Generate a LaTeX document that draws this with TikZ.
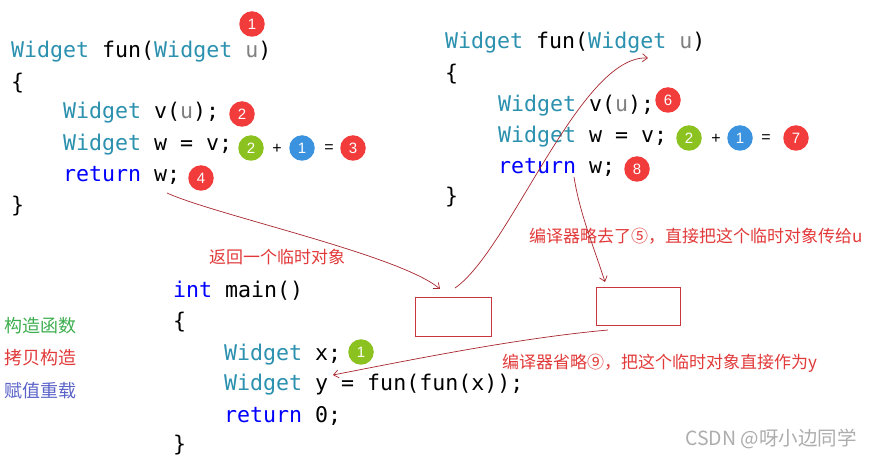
\documentclass[tikz,border=0pt]{standalone}
\usepackage{fontspec}
\usetikzlibrary{arrows.meta}
\newfontfamily\codefont{DejaVu Sans Mono}
\newfontfamily\cjk{Noto Sans CJK SC}
\newfontfamily\numfont{Liberation Sans}
\definecolor{vstype}{HTML}{2B91AF}
\definecolor{vsgray}{HTML}{808080}
\definecolor{vskw}{HTML}{0000FF}
\definecolor{bred}{HTML}{F23B3B}
\definecolor{bgreen}{HTML}{8CC21F}
\definecolor{bblue}{HTML}{3B93DF}
\definecolor{annred}{HTML}{E23A3A}
\definecolor{linered}{HTML}{A8262E}
\definecolor{boxred}{HTML}{C9363E}
\definecolor{lgreen}{HTML}{3DAE4F}
\definecolor{lblue}{HTML}{5A62C8}
\definecolor{wm}{HTML}{ADADAD}
\begin{document}
\begin{tikzpicture}[x=1pt,y=-1pt,
 code/.style={anchor=base west, inner sep=0, font=\codefont\fontsize{21.6}{26}\selectfont},
 badge/.style={circle, fill=#1, text=white, inner sep=0, minimum size=25.5pt, font=\numfont\fontsize{15}{15}\selectfont},
 op/.style={inner sep=0, font=\numfont\fontsize{16}{16}\selectfont},
 ann/.style={anchor=base west, inner sep=0, text=annred, font=\cjk\fontsize{17}{20}\selectfont},
 legend/.style={anchor=base west, inner sep=0, font=\cjk\fontsize{18}{20}\selectfont},
 tmpbox/.style={draw=boxred, line width=0.9pt, inner sep=0},
 conn/.style={draw=linered, line width=0.7pt, -{Straight Barb[length=5pt,width=8pt]}}]

\useasboundingbox (0,0) rectangle (871,457);
\fill[white] (0,0) rectangle (871,457);

% left function
\node[code] (l1) at (11,58) {\textcolor{vstype}{Widget} fun(\textcolor{vstype}{Widget} \textcolor{vsgray}{u})};
\node[code] (l2) at (11,90) {\{};
\node[code] (l3) at (63,119) {\textcolor{vstype}{Widget} v(\textcolor{vsgray}{u});};
\node[code] (l4) at (63,151) {\textcolor{vstype}{Widget} w = v;};
\node[code] (l5) at (63,182) {\textcolor{vskw}{return} w;};
\node[code] (l6) at (11,213) {\}};

% right function
\node[code] (r1) at (445,49) {\textcolor{vstype}{Widget} fun(\textcolor{vstype}{Widget} \textcolor{vsgray}{u})};
\node[code] (r2) at (445,81) {\{};
\node[code] (r3) at (498,112) {\textcolor{vstype}{Widget} v(\textcolor{vsgray}{u});};
\node[code] (r4) at (498,143) {\textcolor{vstype}{Widget} w = v;};
\node[code] (r5) at (498,174) {\textcolor{vskw}{return} w;};
\node[code] (r6) at (445,204) {\}};

% main
\node[code] (m1) at (173,298) {\textcolor{vskw}{int} main()};
\node[code] (m2) at (173,329) {\{};
\node[code] (m3) at (224,360) {\textcolor{vstype}{Widget} x;};
\node[code] (m4) at (224,390) {\textcolor{vstype}{Widget} y = fun(fun(x));};
\node[code] (m5) at (224,422) {\textcolor{vskw}{return} 0;};
\node[code] (m6) at (173,451) {\}};

% badges left
\node[badge=bred] (bl1) at (252,24) {1};
\node[badge=bred] (bl2) at (242,114) {2};
\node[badge=bgreen] (bl3) at (251,148) {2};
\node[op] (pl) at (277,149) {+};
\node[badge=bblue] (bl4) at (302,148) {1};
\node[op] (el) at (329,149) {=};
\node[badge=bred] (bl5) at (353,148) {3};
\node[badge=bred] (bl6) at (201,178) {4};

% badges right
\node[badge=bred] (br1) at (668,100) {6};
\node[badge=bgreen] (br2) at (689,138) {2};
\node[op] (pr) at (716,139) {+};
\node[badge=bblue] (br3) at (740,138) {1};
\node[op] (er) at (766,139) {=};
\node[badge=bred] (br4) at (796,138) {7};
\node[badge=bred] (br5) at (637,169) {8};

% badge main
\node[badge=bgreen] (bm1) at (361,352) {1};

% legend
\node[legend, text=lgreen] (lg1) at (4,333) {构造函数};
\node[legend, text=annred] (lg2) at (4,365) {拷贝构造};
\node[legend, text=lblue] (lg3) at (4,397) {赋值重载};

% annotations
\node[ann] (t1) at (209,263.5) {返回一个临时对象};
\node[ann] (t2) at (529,242.5) {编译器略去了⑤，直接把这个临时对象传给u};
\node[ann] (t3) at (502,368.5) {编译器省略⑨，把这个临时对象直接作为y};
\node[anchor=base west, inner sep=0, text=wm, font=\cjk\fontsize{19.5}{22}\selectfont] (wmk) at (685,445) {CSDN @呀小边同学};

% temp boxes
\node[tmpbox, minimum width=76pt, minimum height=39pt] (box1) at (453,316.5) {};
\node[tmpbox, minimum width=84pt, minimum height=38pt] (box2) at (638,306) {};

% connector ends
\coordinate (a1s) at (167,193);
\coordinate (a1e) at (440,289);
\coordinate (a2s) at (455,288);
\coordinate (a2e) at (648,58);
\coordinate (a3s) at (574,177);
\coordinate (a3e) at (605,282);
\coordinate (a4s) at (608,330);
\coordinate (a4e) at (333,375);

\draw[conn] (a1s) .. controls (215,215) and (400,255) .. (a1e);
\draw[conn] (a2s) .. controls (510,250) and (580,55) .. (a2e);
\draw[conn] (a3s) .. controls (580,215) and (595,250) .. (a3e);
\draw[conn] (a4s) .. controls (520,338) and (420,358) .. (a4e);
\end{tikzpicture}
\end{document}
